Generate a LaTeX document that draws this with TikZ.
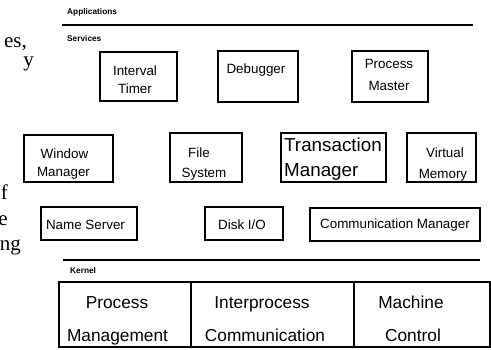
\documentclass[tikz,border=0pt]{standalone}
\usepackage{fontspec}
\setmainfont{Liberation Sans}
\newfontfamily\fragfont{Liberation Serif}
\begin{document}
\begin{tikzpicture}[x=1pt,y=-1pt,
  box/.style={draw, line width=1.1pt, inner sep=0pt, rectangle},
  lbl/.style={inner sep=0pt, anchor=base, font=\fontsize{13.4}{16}\selectfont},
  lblw/.style={inner sep=0pt, anchor=base west, font=\fontsize{18.8}{22}\selectfont},
  big/.style={inner sep=0pt, anchor=base, font=\fontsize{17.3}{20}\selectfont},
  head/.style={inner sep=0pt, anchor=base west, font=\bfseries\fontsize{8.3}{10}\selectfont},
  frag/.style={inner sep=0pt, anchor=base east, font=\fragfont\fontsize{21}{24}\selectfont},
  rulestyle/.style={line width=1.4pt}]
\useasboundingbox (0,0) rectangle (491,349);

% stray text of the surrounding page
\node[frag] (f1) at (27,47) {es,};
\node[frag] (f2) at (34,66) {y};
\node[frag] (f3) at (8,199) {f};
\node[frag] (f4) at (8,225) {e};
\node[frag] (f5) at (21,250) {ng};

% layer headings and rules
\node[head] (apps) at (67,14) {Applications};
\coordinate (r1a) at (62,25);
\coordinate (r1b) at (473,25);
\draw[rulestyle] (r1a) -- (r1b);
\node[head] (serv) at (67,41) {Services};

% services row 1
\node[box, minimum width=77pt, minimum height=49pt] (itimer) at (138.5,76.5) {};
\node[lbl] (itimer1) at (135,75) {Interval};
\node[lbl] (itimer2) at (135,93) {Timer};

\node[box, minimum width=80pt, minimum height=51pt] (dbg) at (258,76.5) {};
\node[lbl] (dbg1) at (256,73) {Debugger};

\node[box, minimum width=76pt, minimum height=51pt] (pmaster) at (390,76.5) {};
\node[lbl] (pmaster1) at (389,68) {Process};
\node[lbl] (pmaster2) at (389,90) {Master};

% services row 2
\node[box, minimum width=89pt, minimum height=47pt] (wm) at (68.5,158.5) {};
\node[lbl] (wm1) at (64.5,158) {Window};
\node[lbl] (wm2) at (63.5,176) {Manager};

\node[box, minimum width=72pt, minimum height=49pt] (fs) at (206,157.5) {};
\node[lbl] (fs1) at (199,157) {File};
\node[lbl] (fs2) at (204,177) {System};

\node[box, minimum width=105pt, minimum height=49pt] (tm) at (333.5,157.5) {};
\node[lblw] (tm1) at (284,151) {Transaction};
\node[lblw] (tm2) at (284,176) {Manager};

\node[box, minimum width=69pt, minimum height=49pt] (vm) at (441.5,157.5) {};
\node[lbl] (vm1) at (445,157) {Virtual};
\node[lbl] (vm2) at (443,178) {Memory};

% services row 3
\node[box, minimum width=96pt, minimum height=33pt] (ns) at (89,223.5) {};
\node[lbl] (ns1) at (85.5,229) {Name Server};

\node[box, minimum width=78pt, minimum height=33pt] (disk) at (244,223.5) {};
\node[lbl] (disk1) at (242,229) {Disk I/O};

\node[box, minimum width=170pt, minimum height=33pt] (cm) at (395,224.5) {};
\node[lbl] (cm1) at (395,228) {Communication Manager};

% kernel
\coordinate (r2a) at (63,260);
\coordinate (r2b) at (480,260);
\draw[rulestyle] (r2a) -- (r2b);
\node[head] (kern) at (70,273) {Kernel};

\node[box, minimum width=132pt, minimum height=65pt] (pm) at (125,314.5) {};
\node[big] (pm1) at (117,308) {Process};
\node[big] (pm2) at (117.5,341) {Management};

\node[box, minimum width=163pt, minimum height=65pt] (ipc) at (272.5,314.5) {};
\node[big] (ipc1) at (262,308) {Interprocess};
\node[big] (ipc2) at (265,341) {Communication};

\node[box, minimum width=136pt, minimum height=65pt] (mc) at (422,314.5) {};
\node[big] (mc1) at (411,308) {Machine};
\node[big] (mc2) at (413,341) {Control};
\end{tikzpicture}
\end{document}
